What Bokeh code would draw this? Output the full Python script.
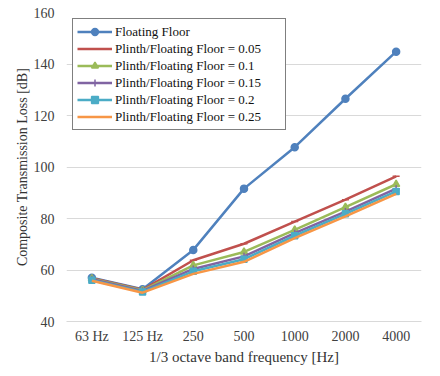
from bokeh.plotting import figure
from bokeh.models import FactorRange, Range1d, SingleIntervalTicker
from bokeh.embed import file_html
from bokeh.resources import INLINE

freqs = ["63 Hz", "125 Hz", "250", "500", "1000", "2000", "4000"]
floating_floor = [57.0, 52.5, 67.8, 91.6, 107.7, 126.5, 144.8]
ratio_005 = [56.8, 52.3, 63.8, 70.2, 78.8, 87.3, 96.4]
ratio_010 = [56.6, 52.1, 61.8, 67.0, 75.6, 84.4, 93.3]
ratio_015 = [56.4, 51.9, 60.4, 65.3, 74.3, 82.7, 91.6]
ratio_020 = [56.0, 51.5, 59.5, 64.2, 73.3, 81.8, 90.5]
ratio_025 = [55.8, 51.2, 58.5, 63.2, 72.4, 80.8, 89.6]

series = [
    ("Floating Floor", floating_floor, "#4F81BD", "circle", 7),
    ("Plinth/Floating Floor = 0.05", ratio_005, "#C0504D", "dash", 7),
    ("Plinth/Floating Floor = 0.1", ratio_010, "#9BBB59", "triangle", 7),
    ("Plinth/Floating Floor = 0.15", ratio_015, "#8064A2", "cross", 7),
    ("Plinth/Floating Floor = 0.2", ratio_020, "#4BACC6", "square", 6),
    ("Plinth/Floating Floor = 0.25", ratio_025, "#F79646", None, 0),
]

FONT = "Liberation Serif"

p = figure(
    x_range=FactorRange(*freqs, range_padding=0),
    y_range=Range1d(40, 160),
    frame_width=355, frame_height=309,
    min_border_left=66, min_border_right=11, min_border_top=12, min_border_bottom=47,
    output_backend="svg", toolbar_location=None,
    background_fill_color="white", border_fill_color="white",
)
p.outline_line_color = None

for name, vals, color, marker, size in series:
    p.line(freqs, vals, line_color=color, line_width=2.5, legend_label=name)
    if marker:
        p.scatter(freqs, vals, marker=marker, size=size, fill_color=color,
                  line_color=color, line_width=1.5, legend_label=name)

p.xgrid.grid_line_color = None
p.ygrid.grid_line_color = "#d9d9d9"
p.ygrid.grid_line_width = 1
p.yaxis.ticker = SingleIntervalTicker(interval=20)

for ax in (p.xaxis, p.yaxis):
    ax.major_tick_line_color = None
    ax.minor_tick_line_color = None
    ax.major_label_text_font = FONT
    ax.major_label_text_font_size = "14px"
    ax.major_label_text_color = "#404040"
    ax.axis_label_text_font = FONT
    ax.axis_label_text_font_style = "normal"
    ax.axis_label_text_color = "#333333"

p.xaxis.axis_line_color = "#d9d9d9"
p.yaxis.axis_line_color = None
p.xaxis.major_label_standoff = 1
p.yaxis.major_label_standoff = 6
p.xaxis.axis_label = "1/3 octave band frequency [Hz]"
p.yaxis.axis_label = "Composite Transmission Loss [dB]"
p.xaxis.axis_label_text_font_size = "15px"
p.yaxis.axis_label_text_font_size = "14px"
p.xaxis.axis_label_standoff = 2
p.yaxis.axis_label_standoff = 1

lg = p.legend[0]
lg.location = "top_left"
lg.margin = 6
lg.padding = 4
lg.spacing = 0
lg.label_height = 17
lg.glyph_height = 17
lg.glyph_width = 35
lg.label_standoff = 3
lg.label_width = 166
lg.label_text_font = FONT
lg.label_text_font_size = "13px"
lg.label_text_color = "#111111"
lg.border_line_color = "black"
lg.border_line_width = 1
lg.background_fill_color = "white"
lg.background_fill_alpha = 1.0

open("out.html", "w").write(file_html(p, INLINE))
